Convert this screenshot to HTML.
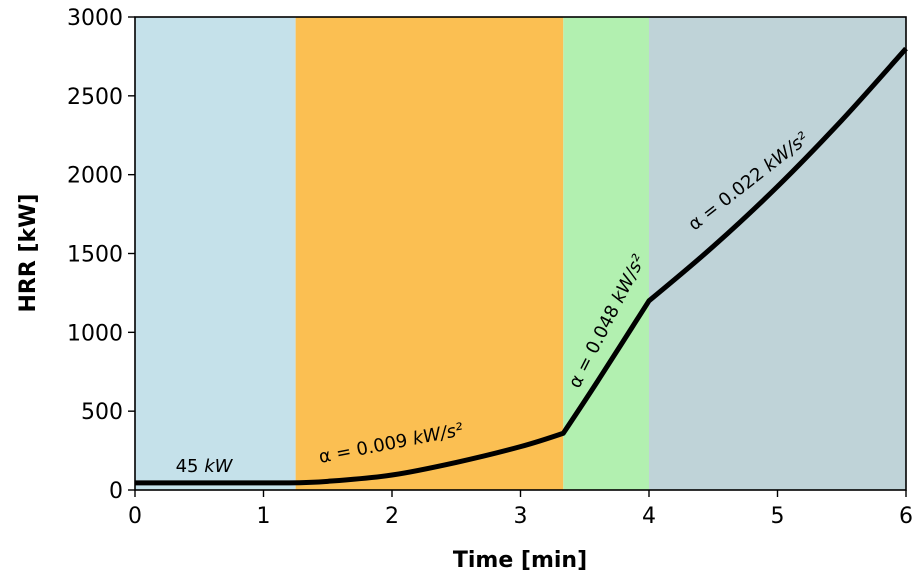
<!DOCTYPE html>
<html><head><meta charset="utf-8"><style>
body{margin:0;background:#fff;}
svg{display:block;font-family:"DejaVu Sans","Liberation Sans",sans-serif;}
</style></head><body>
<svg id="chart" width="919" height="582" viewBox="0 0 919 582">
<g id="bands"></g>
<g id="curve"></g>
<g id="axes"></g>
<text x="520" y="567" text-anchor="middle" font-size="22" font-weight="bold">Time [min]</text>
<text transform="translate(35,253) rotate(-90)" text-anchor="middle" font-size="22" font-weight="bold">HRR [kW]</text>
<text x="204" y="472" text-anchor="middle" font-size="18">45 <tspan font-style="italic">kW</tspan></text>
<text transform="translate(392,449) rotate(-11)" text-anchor="middle" font-size="18">α = 0.009 <tspan font-style="italic">kW/s²</tspan></text>
<text transform="translate(612,324) rotate(-63)" text-anchor="middle" font-size="18">α = 0.048 <tspan font-style="italic">kW/s²</tspan></text>
<text transform="translate(752,186) rotate(-38)" text-anchor="middle" font-size="18">α = 0.022 <tspan font-style="italic">kW/s²</tspan></text>
</svg>
<script>
const bandStarts=[0,1.25,3.333,4];
const bandEnds=[1.25,3.333,4,6];
const bandColors=['#c5e1ea','#fbbf52','#b2f0b0','#bfd3d8'];
const bandNames=['band-constant','band-growth-1','band-growth-2','band-growth-3'];
const timeMin=[0,1.2,1.5,2,2.5,3,3.333,3.6,4,4.5,5,5.5,6];
const hrr=[45,45,55,95,175,275,360,690,1200,1545,1925,2345,2800];
const xTicks=[0,1,2,3,4,5,6];
const yTicks=[0,500,1000,1500,2000,2500,3000];
const X0=135,X1=906,Y0=490,Y1=17;
const xs=t=>X0+(X1-X0)*t/6;
const ys=v=>Y0-(Y0-Y1)*v/3000;
const NS='http://www.w3.org/2000/svg';
function mk(tag,attrs,parent,text){const e=document.createElementNS(NS,tag);for(const k in attrs)e.setAttribute(k,attrs[k]);if(text!==undefined)e.textContent=text;parent.appendChild(e);return e;}
const bands=document.getElementById('bands');
bandStarts.forEach((s,i)=>{const r=mk('rect',{x:xs(s),y:Y1,width:xs(bandEnds[i])-xs(s),height:Y0-Y1,fill:bandColors[i]},bands);

});
const curve=document.getElementById('curve');
const pts=timeMin.map((t,i)=>[xs(t),ys(hrr[i])]);
let d='M'+pts[0][0]+','+pts[0][1];
for(let i=1;i<pts.length;i++){
  const p0=pts[Math.max(i-2,0)],p1=pts[i-1],p2=pts[i],p3=pts[Math.min(i+1,pts.length-1)];
  const k=1/6;
  const c1=(i===2||i===7||i===9)?p1:[p1[0]+(p2[0]-p0[0])*k,p1[1]+(p2[1]-p0[1])*k];
  const c2=(i===1||i===6||i===8)?p2:[p2[0]-(p3[0]-p1[0])*k,p2[1]-(p3[1]-p1[1])*k];
  d+=' C'+c1[0]+','+c1[1]+' '+c2[0]+','+c2[1]+' '+p2[0]+','+p2[1];
}
const p=mk('path',{d:d,fill:'none',stroke:'#000','stroke-width':5,'stroke-linejoin':'round'},curve);


const axes=document.getElementById('axes');
const frame=mk('rect',{x:X0,y:Y1,width:X1-X0,height:Y0-Y1,fill:'none',stroke:'#000','stroke-width':1.6},axes);


xTicks.forEach(t=>{mk('line',{x1:xs(t),x2:xs(t),y1:Y0,y2:Y0+7,stroke:'#000','stroke-width':1.4},axes);
const l=mk('text',{x:xs(t),y:Y0+33,'text-anchor':'middle','font-size':22},axes,String(t));

});
yTicks.forEach(v=>{mk('line',{x1:X0-7,x2:X0,y1:ys(v),y2:ys(v),stroke:'#000','stroke-width':1.4},axes);
const l=mk('text',{x:X0-12,y:ys(v)+8,'text-anchor':'end','font-size':22},axes,String(v));

});
</script>
</body></html>
